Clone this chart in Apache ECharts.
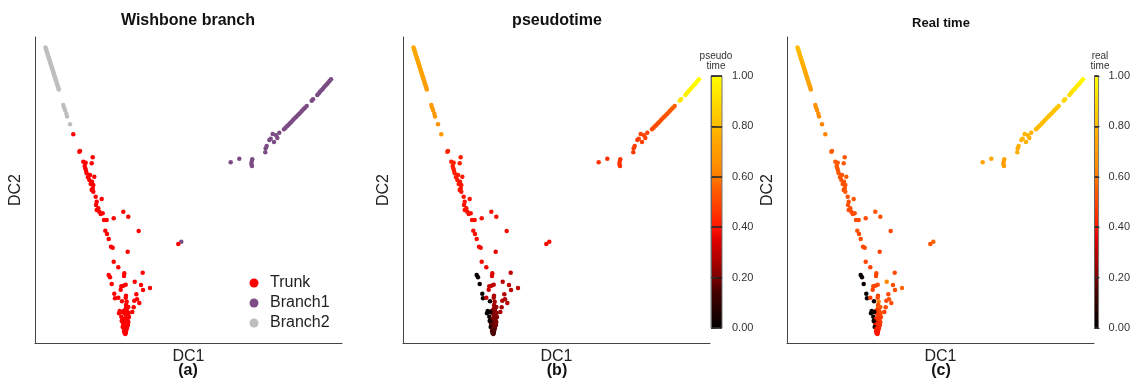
<!DOCTYPE html>
<html><head><meta charset="utf-8">
<script src="https://cdn.jsdelivr.net/npm/echarts@6/dist/echarts.min.js"></script>
<style>html,body{margin:0;padding:0;background:#fff}#c{width:1133px;height:381px}</style>
</head><body><div id="c"></div>
<script>
// ---------- DATA (DC1, DC2 in arbitrary diffusion-component units) ----------
const trunkDC1 = [38.3,45,44.3,57.7,48.3,50.7,56.7,49.7,50.3,51,51.7,55,59.3,53,54.3,57,55.7,58.3,57.7,56.7,58.3,60.7,66.7,61.7,61,63.3,61.7,64.3,67.7,65.7,88.3,93.3,78.7,69,71.7,103.7,70.3,72,73.7,76,77.7,92.7,143.3,
78.7,83.3,73.7,75,89.3,89,107.7,76.7,99.7,106,90.7,88.3,86.3,85.7,115,108,79.3,101.3,91,90.7,80,83.3,87,99.3,102,104.3,91.7,91,98.7,84.7,97.3,91,84,86.3,
93.3,92,90.3,93.7,92.3,89.3,92,90.7,94,93,91.7,87.3,89,92.3,93.3,90,88,91,93,88.3,89.8,87.7,90.7,92,89.3,91.3,90.3,89,91,90,89.5,90.8,90.3,86.7,88.7,87.3];
const trunkDC2 = [208.7,192,191.3,185.7,181.3,180.3,179.7,177,174.7,172.3,169.7,168,166.3,165.7,163,161.3,159,158,154.7,153,151.3,146.3,144,141.3,138,134.7,133,131.3,129.7,129,131.3,126.3,124.7,123,123,112,112.3,109,104,96.3,95.3,91.3,99,
81.3,75.7,68,65.7,69.7,67,70.3,59,61.3,58,58.3,57.3,56.7,53.3,55,53,49.3,48.7,47.3,45.3,44.7,45.3,41.7,42.3,43.7,40,41.3,38,35.7,32,31,34.7,29.7,26.3,
36,34,33,30,31,30,28,28,26,25,25,23,24,22,21,21,20,19,18,19,17,16,16,15,14,13,13,12,12,11,10,10,9,22,32,31];
const trunkPseudo = [0.68,0.43,0.43,0.42,0.42,0.42,0.42,0.42,0.41,0.41,0.41,0.41,0.41,0.41,0.41,0.40,0.40,0.40,0.40,0.40,0.40,0.40,0.40,0.40,0.40,0.40,0.40,0.39,0.39,0.39,0.39,0.39,0.39,0.39,0.39,0.38,0.39,0.39,0.39,0.38,0.38,0.36,0.38,
0.38,0.37,0.01,0.02,0.35,0.34,0.30,0.02,0.29,0.30,0.30,0.30,0.31,0.32,0.30,0.29,0.01,0.28,0.27,0.27,0.02,0.30,0.02,0.27,0.28,0.29,0.26,0.25,0.27,0.01,0.26,0.25,0.01,0.02,
0.24,0.23,0.22,0.23,0.22,0.22,0.21,0.21,0.22,0.21,0.20,0.03,0.20,0.20,0.21,0.19,0.04,0.19,0.20,0.18,0.18,0.04,0.18,0.19,0.17,0.17,0.16,0.16,0.16,0.15,0.15,0.15,0.15,0.04,0.22,0.03];
const trunkReal = [0.62,0.55,0.55,0.54,0.55,0.54,0.55,0.54,0.54,0.53,0.54,0.53,0.55,0.53,0.53,0.54,0.53,0.52,0.53,0.52,0.53,0.52,0.54,0.52,0.52,0.51,0.52,0.51,0.52,0.51,0.52,0.52,0.51,0.51,0.51,0.50,0.52,0.51,0.51,0.50,0.50,0.49,0.52,
0.49,0.48,0.01,0.02,0.50,0.49,0.50,0.02,0.63,0.52,0.50,0.49,0.49,0.48,0.57,0.52,0.01,0.50,0.49,0.50,0.02,0.48,0.02,0.50,0.52,0.51,0.60,0.52,0.50,0.02,0.49,0.55,0.01,0.02,
0.55,0.52,0.50,0.52,0.50,0.48,0.48,0.47,0.50,0.47,0.46,0.03,0.45,0.46,0.47,0.44,0.05,0.44,0.45,0.43,0.43,0.04,0.43,0.44,0.42,0.42,0.42,0.41,0.41,0.41,0.40,0.40,0.40,0.04,0.47,0.03];

const branch1DC1 = [146.3,195.7,204.3,217.3,216.7,216.3,217,230.3,230.7,231.7,234.3,235.7,239,237.7,241,242.3,244.3,
249,250.5,252,253.5,255,256.5,258,259.5,261,262.5,264,265.5,267,268.5,270,271.7,276.7,278,
282.3,283.7,285,286.4,287.8,289.2,290.6,292,293.3,294.7,296];
const branch1DC2 = [101.3,180.7,184.3,183.7,181.3,179,177,190.7,194.7,197,203,204.3,201,209,207.7,205,210.3,
213.7,215.2,216.7,218.2,219.8,221.3,222.9,224.4,226,227.5,229.1,230.6,232.2,233.7,235.3,237,242.3,243.7,
248,249.6,251.2,252.7,254.3,255.9,257.5,259.1,260.6,262.2,263.7];
const branch1Pseudo = [0.39,0.45,0.45,0.46,0.46,0.46,0.45,0.47,0.47,0.48,0.48,0.48,0.48,0.49,0.49,0.49,0.49,
0.50,0.50,0.51,0.51,0.51,0.52,0.52,0.52,0.53,0.53,0.53,0.54,0.54,0.55,0.55,0.56,0.93,0.93,
0.95,0.95,0.96,0.96,0.97,0.97,0.98,0.98,0.99,0.99,1.0];
const branch1Real = [0.56,0.72,0.74,0.72,0.72,0.71,0.71,0.76,0.76,0.77,0.77,0.78,0.77,0.78,0.78,0.77,0.78,
0.79,0.79,0.79,0.80,0.80,0.80,0.80,0.81,0.81,0.81,0.82,0.82,0.82,0.83,0.83,0.84,0.88,0.88,
0.90,0.90,0.91,0.92,0.93,0.94,0.94,0.95,0.96,0.97,0.98];

const branch2DC1 = [10.5,11,11.5,12,12.4,12.8,13.3,13.8,14.3,14.8,15.3,15.7,16.2,16.7,17.2,17.6,18.1,18.6,19,19.5,20,20.5,21,21.4,21.9,22.4,22.9,23.4,23.8,
28.3,29,30,31.3,32,35];
const branch2DC2 = [295.5,294,292.5,291,289.5,288,286.5,285,283.5,282,280.5,279,277.5,276,274.5,273,271.5,270,268.5,267,265.5,264,262.5,261,259.5,258,256.5,255,253.5,
238,235.5,233,229.5,226.5,218.7];
const branch2Pseudo = [0.74,0.74,0.74,0.74,0.74,0.74,0.74,0.74,0.73,0.73,0.73,0.73,0.73,0.73,0.73,0.73,0.72,0.72,0.72,0.72,0.72,0.72,0.72,0.71,0.71,0.71,0.71,0.71,0.71,
0.69,0.69,0.68,0.68,0.67,0.66];
const branch2Real = [0.80,0.80,0.80,0.79,0.79,0.79,0.78,0.78,0.78,0.77,0.77,0.77,0.76,0.76,0.76,0.75,0.75,0.75,0.74,0.74,0.74,0.73,0.73,0.73,0.72,0.72,0.72,0.71,0.71,
0.66,0.66,0.65,0.65,0.64,0.62];

const groupNames = ['Trunk', 'Branch1', 'Branch2'];
const colorbarTicks = [0, 0.2, 0.4, 0.6, 0.8, 1.0];

// ---------- STYLE ----------
const FONT = "'Liberation Sans', Arial, Helvetica, sans-serif";
const groupColors = ['#ff0000', '#7b4d84', '#bebebe'];
const heatColors = ['#000000','#180000','#300000','#480000','#7a0000','#a00000','#c00000','#e00000','#ff1400','#ff3000',
  '#ff4800','#ff5c00','#ff7c00','#ff9000','#ff9c00','#ffa800','#ffbc00','#ffcc00','#ffdc00','#ffee00','#ffff00'];

function zip(a, b, c, d) { return a.map((v, i) => [v, b[i], c[i], d[i]]); }
const trunkPts = zip(trunkDC1, trunkDC2, trunkPseudo, trunkReal);
const branch1Pts = zip(branch1DC1, branch1DC2, branch1Pseudo, branch1Real);
const branch2Pts = zip(branch2DC1, branch2DC2, branch2Pseudo, branch2Real);
const allPts = branch2Pts.concat(branch1Pts, trunkPts);

const X_MAX = 307, Y_MAX = 306;

function mainX(i) {
  return { gridIndex: i, type: 'value', min: 0, max: X_MAX, name: 'DC1', nameLocation: 'middle', nameGap: 6,
    nameTextStyle: { fontSize: 16, color: '#222', fontFamily: FONT },
    axisLine: { show: true, onZero: false, lineStyle: { color: '#444', width: 1 } },
    axisTick: { show: false }, axisLabel: { show: false }, splitLine: { show: false } };
}
function mainY(i) {
  return { gridIndex: i, type: 'value', min: 0, max: Y_MAX, name: 'DC2', nameLocation: 'middle', nameGap: 11,
    nameTextStyle: { fontSize: 16, color: '#222', fontFamily: FONT },
    axisLine: { show: true, onZero: false, lineStyle: { color: '#444', width: 1 } },
    axisTick: { show: false }, axisLabel: { show: false }, splitLine: { show: false } };
}
function barGradient() {
  const n = heatColors.length;
  const stops = heatColors.map((c, i) => ({ offset: 1 - i / (n - 1), color: c })).reverse();
  return new echarts.graphic.LinearGradient(0, 0, 0, 1, stops);
}
function cbX(i) { return { gridIndex: i, type: 'value', min: 0, max: 1, show: false }; }
function cbY(i) {
  return { gridIndex: i, type: 'value', min: colorbarTicks[0], max: colorbarTicks[colorbarTicks.length - 1], interval: 0.2,
    position: 'right',
    axisLine: { show: true, lineStyle: { color: '#666', width: 1 } },
    axisTick: { show: true, length: 5, lineStyle: { color: '#333', width: 1 } },
    axisLabel: { show: true, margin: 10, fontSize: 11, color: '#333', fontFamily: FONT, formatter: v => v.toFixed(2) },
    splitLine: { show: true, lineStyle: { color: '#222', width: 1.5 } } };
}

function txt(text, x, y, size, weight, fill) {
  return { type: 'text', x: x, y: y, silent: true,
    style: { text: text, align: 'center', verticalAlign: 'middle', fill: fill || '#111', font: weight + ' ' + size + 'px ' + FONT } };
}

const SYM = 4.5;
const option = {
  backgroundColor: '#fff',
  animation: false,
  grid: [
    { left: 35, top: 37, width: X_MAX, height: Y_MAX },
    { left: 403, top: 37, width: X_MAX, height: Y_MAX },
    { left: 787, top: 37, width: X_MAX, height: Y_MAX },
    { left: 711, top: 76, width: 11, height: 252, show: true, backgroundColor: barGradient(), borderColor: '#777', borderWidth: 1 },
    { left: 1094.5, top: 76, width: 11.5, height: 252, show: true, backgroundColor: barGradient(), borderColor: '#777', borderWidth: 1 }
  ],
  xAxis: [mainX(0), mainX(1), mainX(2), cbX(3), cbX(4)],
  yAxis: [mainY(0), mainY(1), mainY(2), cbY(3), cbY(4)],
  visualMap: [
    { type: 'continuous', show: false, min: 0, max: 1, dimension: 2, seriesIndex: 3, inRange: { color: heatColors } },
    { type: 'continuous', show: false, min: 0, max: 1, dimension: 3, seriesIndex: 4, inRange: { color: heatColors } }
  ],
  legend: {
    data: groupNames, orient: 'vertical', left: 244.5, top: 270, itemWidth: 22, itemHeight: 9, itemGap: 4,
    icon: 'circle', padding: 5,
    itemStyle: { opacity: 1 },
    textStyle: { fontSize: 16, color: '#222', fontFamily: FONT }
  },
  series: [
    { name: groupNames[0], type: 'scatter', xAxisIndex: 0, yAxisIndex: 0, data: trunkPts, symbolSize: SYM, itemStyle: { color: groupColors[0], opacity: 1 }, z: 3 },
    { name: groupNames[1], type: 'scatter', xAxisIndex: 0, yAxisIndex: 0, data: branch1Pts, symbolSize: SYM, itemStyle: { color: groupColors[1], opacity: 1 }, z: 2 },
    { name: groupNames[2], type: 'scatter', xAxisIndex: 0, yAxisIndex: 0, data: branch2Pts, symbolSize: SYM, itemStyle: { color: groupColors[2], opacity: 1 }, z: 2 },
    { name: 'pseudotime', type: 'scatter', xAxisIndex: 1, yAxisIndex: 1, data: allPts, symbolSize: SYM, itemStyle: { opacity: 1 } },
    { name: 'real time', type: 'scatter', xAxisIndex: 2, yAxisIndex: 2, data: allPts, symbolSize: SYM, itemStyle: { opacity: 1 } }
  ],
  graphic: [
    txt('Wishbone branch', 188, 21, 16, 'bold'),
    txt('pseudotime', 557, 21, 16, 'bold'),
    txt('Real time', 941, 23, 13, 'bold'),
    txt('(a)', 188, 371, 16, 'bold'),
    txt('(b)', 557, 371, 16, 'bold'),
    txt('(c)', 941, 371, 16, 'bold'),
    txt('pseudo', 716, 56.5, 10, 'normal', '#333'),
    txt('time', 716, 66, 10, 'normal', '#333'),
    txt('real', 1100, 56.5, 10, 'normal', '#333'),
    txt('time', 1100, 66, 10, 'normal', '#333')
  ]
};

const chart = echarts.init(document.getElementById('c'), null, { renderer: 'canvas' });
chart.setOption(option);
</script>
</body></html>
